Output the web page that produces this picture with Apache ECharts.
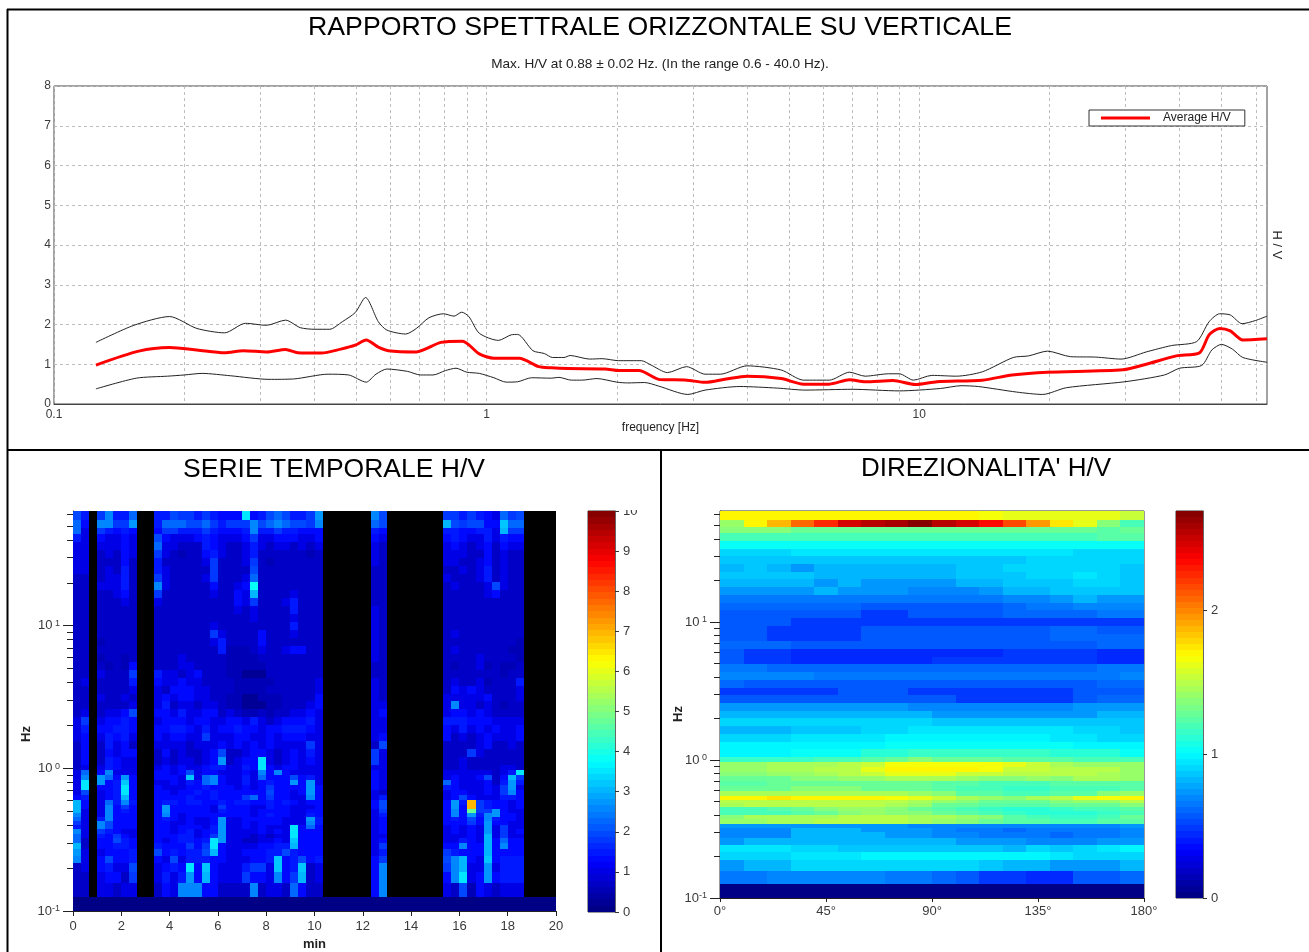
<!DOCTYPE html>
<html><head><meta charset="utf-8">
<style>html,body{margin:0;padding:0;background:#fff}#c{width:1309px;height:952px}</style>
<script src="https://cdn.jsdelivr.net/npm/echarts@6/dist/echarts.min.js"></script>
</head><body><div id="c"></div>
<script>
const titleMain = "RAPPORTO SPETTRALE ORIZZONTALE SU VERTICALE";
const subtitle = "Max. H/V at 0.88 ± 0.02 Hz. (In the range 0.6 - 40.0 Hz).";
const titleSeries = "SERIE TEMPORALE H/V";
const titleDir = "DIREZIONALITA' H/V";
const freqMax = 63.7;
const freqGrid = [0.1,0.2,0.3,0.4,0.5,0.6,0.7,0.8,0.9,1,2,3,4,5,6,7,8,9,10,20,30,40,50,60];
const freqDecades = [0.1,1,10];

const upperFreq = [0.125,0.153,0.185,0.214,0.248,0.277,0.31,0.343,0.371,0.40,0.434,0.464,0.497,0.525,0.562,0.588,0.65,0.688,0.736,0.795,0.841,0.876,0.91,0.962,1.065,1.14,1.18,1.28,1.36,1.42,1.51,1.56,1.73,1.85,2.02,2.28,2.4,2.62,2.9,3.2,3.47,4.0,4.8,5.4,6.2,6.9,7.5,8.5,9,9.7,10.7,12.2,14,16.5,17.9,19.8,22.4,25.6,29.3,33.5,38.3,43.8,46.8,49.5,52.4,55.8,59.9,63.7];
const upperHV = [1.55,1.98,2.2,1.9,1.79,2.03,1.98,2.11,1.92,1.88,1.88,2.07,2.3,2.68,2.07,1.86,1.76,1.9,2.17,2.27,2.21,2.31,2.2,1.78,1.6,1.74,1.75,1.34,1.27,1.17,1.17,1.22,1.13,1.14,1.09,1.09,0.98,0.79,0.94,0.75,0.75,0.96,0.855,0.6,0.6,0.8,0.7,0.76,0.76,0.6,0.72,0.7,0.81,1.17,1.21,1.33,1.19,1.18,1.13,1.31,1.47,1.57,2.07,2.27,2.24,2.02,2.1,2.21];
const meanFreq = [0.125,0.157,0.185,0.214,0.248,0.274,0.31,0.343,0.366,0.415,0.46,0.497,0.527,0.562,0.593,0.688,0.784,0.88,0.962,1.04,1.19,1.32,1.41,1.54,1.88,2.02,2.25,2.5,2.62,2.9,3.2,3.58,4,4.8,5.4,6.2,6.9,7.5,8.7,9.8,11,14,16.4,19.8,29.6,33.5,39.3,44.5,46.8,49.5,52.4,56,63.7];
const meanHV = [0.98,1.33,1.42,1.36,1.29,1.34,1.31,1.37,1.29,1.28,1.38,1.48,1.61,1.43,1.34,1.31,1.55,1.58,1.26,1.15,1.15,0.94,0.91,0.89,0.88,0.84,0.84,0.62,0.61,0.6,0.545,0.63,0.7,0.64,0.5,0.5,0.61,0.56,0.59,0.49,0.56,0.6,0.73,0.8,0.86,1.0,1.21,1.29,1.74,1.9,1.84,1.61,1.64];
const lowerFreq = [0.125,0.155,0.183,0.2,0.22,0.256,0.314,0.358,0.43,0.48,0.527,0.555,0.588,0.657,0.703,0.752,0.803,0.85,0.9,0.962,1.04,1.11,1.18,1.27,1.41,1.47,1.57,1.66,1.8,2.0,2.12,2.32,2.5,2.92,3.2,3.85,4.7,5.45,7,9,11.2,12.5,13.7,16.8,19.3,21.9,29.9,36.9,40,45,47.5,50,53,56,63.7];
const lowerHV = [0.38,0.65,0.7,0.73,0.77,0.71,0.62,0.63,0.75,0.73,0.55,0.75,0.88,0.82,0.73,0.73,0.84,0.9,0.8,0.77,0.66,0.55,0.56,0.66,0.65,0.67,0.6,0.6,0.64,0.55,0.53,0.54,0.45,0.24,0.35,0.44,0.40,0.35,0.37,0.33,0.39,0.46,0.44,0.3,0.24,0.41,0.56,0.73,0.9,0.97,1.36,1.5,1.38,1.17,1.05];

// log10(frequency) limits of the spectrogram rows, bottom to top
const rowLogEdges = [-1,-.902,-.804,-.727,-.664,-.615,-.566,-.524,-.49,-.462,-.427,-.399,-.371,-.343,-.315,-.287,-.259,-.224,-.189,-.154,-.119,-.084,-.049,-.014,.021,.077,.133,.189,.245,.301,.357,.413,.469,.524,.58,.636,.692,.748,.804,.86,.916,.972,1.028,1.084,1.14,1.196,1.252,1.308,1.364,1.42,1.476,1.531,1.587,1.643,1.685,1.741,1.804];

// time columns (20 s each) that hold data; the others stay black
const liveCols = [0,1,3,4,5,6,7,10,11,12,13,14,15,16,17,18,19,20,21,22,23,24,25,26,27,28,29,30,37,38,46,47,48,49,50,51,52,53,54,55];
const timeColCount = 60;
const floorValue = 0;
// H/V in steps of 0.25 (base-36 digits), top row first, one digit per live column
const tsRows = [
"86 7a669 66877676555e56898667b a8 7767654978",
"95 aa77b 699988976777a89a9887a 98 c878855d99",
"94 76565 577666765556a66766555 65 6655664c77",
"64 54454 854445654445744555445 54 5654464655",
"44 44454 944333654334643443434 43 4543453544",
"44 34354 743233564334633333323 43 4443353433",
"44 33353 633333473334732333333 43 4433453433",
"44 34363 643333373333833333333 33 3343463433",
"33 34463 743333473334933333333 33 4333463433",
"33 44463 a43333353345f33333333 33 3433348433",
"33 33453 733333343354c33334333 33 3333345333",
"33 33343 433333333354733346333 33 3333333333",
"33 33333 333333333343433336333 43 3333333333",
"33 33333 333333333333433334333 43 3333333333",
"33 33333 333333343333333336333 43 3333333333",
"33 33333 333333374333353334333 43 3433333333",
"33 23333 333333346333353333333 43 3333333332",
"33 33333 333333336222343345533 43 3433333322",
"33 23323 333433333222233333333 43 3333433332",
"33 32325 333443333222223333333 33 3233423223",
"33 43337 644345333221113333333 33 3333333233",
"34 33336 544544333322222333334 43 3433423336",
"33 33334 435554433322223333334 43 3545433334",
"33 43343 454554433221122233335 43 4444453334",
"33 33334 463443443221112233345 44 4a44343233",
"34 34458 554644553432232334454 45 4554543333",
"47 45565 455545544554643455564 44 6665554444",
"46 55665 556654645565545566654 44 5464545445",
"45 46564 545544744455445455544 45 5343454445",
"35 36453 444434445454545444474 38 3333453343",
"35 35455 353433458334554345464 74 3337433333",
"35 36544 34344345b3455e4345454 74 3343333333",
"34 46544 4545445664465e5455444 44 3343333443",
"49 5a444 5545845544454a5a54444 54 444444346e",
"4a b95b5 5554d49a5446495558564 54 45445835c7",
"4e b56d5 4454659a544645655b5b4 54 95444536b6",
"4e 556e5 5444556555454575555b5 54 65444547b4",
"48 456e5 5545565655555585545b5 43 45544547a5",
"56 456c5 5555655655579575544a5 46 4585444665",
"c5 496a6 566566556566556565455 58 5b6s765545",
"c5 4a575 5b5555547555446554445 58 5b5s765545",
"c4 4a565 5b5555546555455554455 47 5a5j77b544",
"a4 4a555 5a5455555555456554465 46 5a5b6ab554",
"94 6a555 56545445b4455555444b6 45 56585a6554",
"74 a8555 55445445b4454555444a6 45 55575b5544",
"64 a8555 55455546b44545444e595 45 45454b4744",
"a4 76544 55456456b44445454e555 45 45454b4745",
"94 65754 55566457b44434344e555 44 44454c4744",
"93 55865 5456656eb44334454d555 45 44654c5955",
"c3 55665 6555757e544445566c555 47 55a55c5a55",
"b4 45556 8565668c5445556686555 46 76555c5555",
"a4 58556 548466655444556d56856 57 8ac54d5666",
"34 56448 4565e5d54446774d56d34 5a 7ac44b4666",
"33 45537 4646b5c54447554a57c34 5a 5ae45b5666",
"33 44344 354aaa553333a34439533 5a 4382543444"
];
// H/V in steps of 0.05 (0-9 a-z A-Z), top row first, one digit per 10 degrees
const dirRows = [
"yyyyyyyyyyyxwwwwwv","syBGJNPQRPNLHDzwro","rrrqqqqqqqqqqqqqpq","oooooooooooooooopp",
"llllllllllllllllll","iiijjjjjjjjjjjjiii","hhhhhhhhhhhhhiiiii","ghgfgggggghhiiiiih",
"hhhhgggggghhhiijih","ggggfgffffgghhhiih","ffffgfffeeefgghhhh","ddddddddddddeefgff",
"ccccccbbbbbbcddeee","bbbbbbaabbbbccccdd","bbbaaaaaaaaaaaaaaa","bbaaaabbbbbbbbccbb",
"bbaaaabbbbbbbbcccc","cccbbbbbbbbbbbbbcc","baa999999999aaaa99","baa999999aaaaaaa99",
"ddccccccccccccccdd","eeeeddddddddddddde","cbbbbbbbbbbbbbbbcc","aaaaabbbaaaaaaabbb",
"bbbbbbbbbbaaaaabcc","ffffffffeeeeeeefff","gggggggggfffffffgg","iiiiiiiiihhhhhhhhh",
"ggghhhiijjjjjjjiih","iiijjjjkkkkkkkjjii","kkkkkkkllllllllkkk","kkklllmmnnnnnnmmml",
"nnnnoopqrqqqpppooo","sstttuvxxxxxwvtsss","ssttuuwyyyyxvvuuus","rrsstuvwwwvvuuuuts",
"qqqrrsstttsrrsrtts","ppqqqqqqqppooopppp","qqqrrrqqqpoonnooop","ttttttttsrppoopprs",
"yyzyyyyxwvtsrtuwxy","uuuuuuuutsrqqqrssu","tuuuuuutsqqpppqqqr","oopqrssrqponmmnoop",
"ooopqrsrrqponmmmno","rttttuuuttsrponnoq","ssttuuuutsrqppoopp","ffffffffeeeeeeeeef",
"eeegggfffeddcdddde","eeeggggffeedddcdde","fgggggggggfffeeeff","jjjiihhhhhhhgihijk",
"iiijjjkkkkkkkkjiii","fggiiiiiiiihggfffg","ddeeeeeddcbaa99bbc","000000000000000000"
];
const tsMax = 10, dirMax = 2.69;
const timeTicks = {min:0,max:20,interval:2};
const dirTicks = {min:0,max:180,interval:45};
const hvTicks = {min:0,max:8,interval:1};
const tsBarTicks = [0,1,2,3,4,5,6,7,8,9,10];
const dirBarTicks = [0,1,2];
const logTicks = [0.1,0.2,0.3,0.4,0.5,0.6,0.7,0.8,0.9,1,2,3,4,5,6,7,8,9,10,20,30,40,50,60];

const LEVELS = 64;
function jet(f){
  f = Math.max(0,Math.min(0.9999,f));
  f = (Math.floor(f*LEVELS)+0.5)/LEVELS;
  const c = x=>Math.round(255*Math.max(0,Math.min(1,1.5-Math.abs(4*f-x))));
  return `rgb(${c(3)},${c(2)},${c(1)})`;
}
const edge = k => Math.pow(10,rowLogEdges[k]);
const nRows = rowLogEdges.length-1;
const tsCells = [];
tsRows.forEach((row,i)=>{
  const digits = row.replace(/ /g,'');
  const k = nRows-1-i;
  liveCols.forEach((col,j)=>{
    tsCells.push([col/3,(col+1)/3,edge(k),edge(k+1),parseInt(digits[j],36)*0.25]);
  });
});
for(let col=0;col<timeColCount;col++) tsCells.push([col/3,(col+1)/3,edge(0),edge(1),floorValue]);
const ALPHA='0123456789abcdefghijklmnopqrstuvwxyzABCDEFGHIJKLMNOPQRSTUVWXYZ';
const dirCells = [];
dirRows.forEach((row,i)=>{
  const k = nRows-1-i;
  row.split('').forEach((ch,j)=>{
    dirCells.push([j*10,(j+1)*10,edge(k),edge(k+1),ALPHA.indexOf(ch)*0.05]);
  });
});
const barCells = max => Array.from({length:LEVELS},(_,i)=>[0,1,i*max/LEVELS,(i+1)*max/LEVELS,(i+0.5)*max/LEVELS]);
const cellRender = max => (params,api)=>{
  const a = api.coord([api.value(0),api.value(2)]);
  const b = api.coord([api.value(1),api.value(3)]);
  const x0=Math.round(a[0]),x1=Math.round(b[0]),y0=Math.round(b[1]),y1=Math.round(a[1]);
  return {type:'rect',shape:{x:x0,y:y0,width:x1-x0,height:y1-y0},style:{fill:jet(api.value(4)/max)}};
};
const cellSeries=(name,data,max,ax)=>({name,type:'custom',xAxisIndex:ax.x,yAxisIndex:ax.y,data,encode:{x:[0,1],y:[2,3]},renderItem:cellRender(max),silent:true,clip:true});

const FONT='"Liberation Sans",Arial,sans-serif', LAB='#3a3a3a';
const labelStyle={color:LAB,fontFamily:FONT,fontSize:12};
const powerLabel = v => {
  const e=Math.round(Math.log10(v));
  return '{b|10}{s|'+(e<0?e:' '+e)+'}';
};
const logAxisPair = (gi)=>[
 {type:'log',logBase:10,gridIndex:gi,min:0.1,max:freqMax,
  axisLine:{show:true,onZero:false,lineStyle:{color:'#222'}},
  axisTick:{show:true,length:6,inside:false,customValues:logTicks,lineStyle:{color:'#222'}},
  axisLabel:{show:false},splitLine:{show:false},minorTick:{show:false}},
 {type:'log',logBase:10,gridIndex:gi,min:0.1,max:freqMax,position:'left',
  axisLine:{show:false},
  axisTick:{show:true,length:10,customValues:freqDecades,lineStyle:{color:'#222'}},
  axisLabel:{show:true,margin:13,customValues:freqDecades,formatter:powerLabel,
    rich:{b:{fontFamily:FONT,fontSize:13,color:LAB},s:{fontFamily:FONT,fontSize:9,color:LAB,verticalAlign:'top',lineHeight:11,padding:[0,0,6,0]}}},
  splitLine:{show:false}}
];
const barX = gi=>({type:'value',gridIndex:gi,min:0,max:1,show:false});
const barY = (gi,max,vals)=>({type:'value',gridIndex:gi,min:0,max,position:'right',
  axisLine:{show:true,onZero:false,lineStyle:{color:'#666'}},
  axisTick:{show:true,length:4,customValues:vals,lineStyle:{color:'#333'}},
  axisLabel:{show:true,margin:8,customValues:vals,color:LAB,fontFamily:FONT,fontSize:13},
  splitLine:{show:false}});

const option={
 animation:false,backgroundColor:'#fff',
 title:[
  {text:titleMain,left:660,top:14,textAlign:'center',padding:0,textStyle:{fontFamily:FONT,fontSize:26.7,fontWeight:'normal',color:'#000'}},
  {text:subtitle,left:660,top:57,textAlign:'center',padding:0,textStyle:{fontFamily:FONT,fontSize:13.6,fontWeight:'normal',color:'#222'}},
  {text:titleSeries,left:334,top:456,textAlign:'center',padding:0,textStyle:{fontFamily:FONT,fontSize:26.5,fontWeight:'normal',color:'#000'}},
  {text:titleDir,left:986,top:456,textAlign:'center',padding:0,textStyle:{fontFamily:FONT,fontSize:26,fontWeight:'normal',color:'#000'}}
 ],
 legend:{data:['Average H/V'],left:1089,top:110,orient:'horizontal',selectedMode:false,backgroundColor:'#fff',
  borderColor:'#333',borderWidth:1,borderRadius:0,padding:[2,14,2,12],itemWidth:49,itemHeight:3,itemGap:0,
  icon:'rect',textStyle:{fontFamily:FONT,fontSize:12,color:'#222',padding:[0,0,0,8]}},
 grid:[
  {left:54,top:86,width:1213,height:318,show:true,borderColor:'#444',borderWidth:1,backgroundColor:'#fff',containLabel:false},
  {left:73,top:511,width:483,height:401,show:true,backgroundColor:'#000',borderWidth:0},
  {left:588,top:511,width:27,height:401,show:true,borderColor:'#333',borderWidth:1},
  {left:720,top:511,width:424,height:387,show:true,borderColor:'#333',borderWidth:1,backgroundColor:'#fff'},
  {left:1176,top:511,width:27,height:387,show:true,borderColor:'#333',borderWidth:1}
 ],
 xAxis:[
  {type:'log',logBase:10,gridIndex:0,min:0.1,max:freqMax,name:'frequency [Hz]',nameLocation:'middle',nameGap:15,
   nameTextStyle:{fontFamily:FONT,fontSize:12,color:'#222'},
   axisLine:{show:true,onZero:false,lineStyle:{color:'#444'}},
   axisTick:{show:false,customValues:freqGrid},
   axisLabel:{show:true,customValues:freqDecades,margin:5,color:LAB,fontFamily:FONT,fontSize:12,formatter:v=>String(+v.toFixed(1))},
   splitLine:{show:true,lineStyle:{type:[3,3],color:'#bdbdbd',width:1}}},
  {type:'value',gridIndex:1,...timeTicks,name:'min',nameLocation:'middle',nameGap:27,
   nameTextStyle:{fontFamily:FONT,fontSize:13,fontWeight:'bold',color:'#222'},
   axisLine:{show:true,onZero:false,lineStyle:{color:'#222'}},axisTick:{show:true,length:5,lineStyle:{color:'#222'}},
   axisLabel:{show:true,margin:9,...labelStyle,fontSize:13},splitLine:{show:false}},
  barX(2),
  {type:'value',gridIndex:3,...dirTicks,
   axisLine:{show:true,onZero:false,lineStyle:{color:'#222'}},axisTick:{show:true,length:4,lineStyle:{color:'#222'}},
   axisLabel:{show:true,margin:7,...labelStyle,fontSize:13,formatter:v=>v+'°'},splitLine:{show:false}},
  barX(4)
 ],
 yAxis:[
  {type:'value',gridIndex:0,...hvTicks,axisLine:{show:false},axisTick:{show:false},
   axisLabel:{show:true,margin:3,...labelStyle},
   splitLine:{show:true,lineStyle:{type:[3,3],color:'#bdbdbd',width:1}}},
  ...logAxisPair(1),
  barY(2,tsMax,tsBarTicks),
  ...logAxisPair(3),
  barY(4,dirMax,dirBarTicks)
 ],
 series:[
  {name:'Upper',type:'line',xAxisIndex:0,yAxisIndex:0,smooth:0.25,showSymbol:false,symbol:'none',lineStyle:{color:'#222',width:1},data:upperFreq.map((f,i)=>[f,upperHV[i]]),silent:true},
  {name:'Lower',type:'line',xAxisIndex:0,yAxisIndex:0,smooth:0.25,showSymbol:false,symbol:'none',lineStyle:{color:'#222',width:1},data:lowerFreq.map((f,i)=>[f,lowerHV[i]]),silent:true},
  {name:'Average H/V',type:'line',xAxisIndex:0,yAxisIndex:0,smooth:0.25,showSymbol:false,symbol:'none',itemStyle:{color:'#ff0000'},lineStyle:{color:'#ff0000',width:3},data:meanFreq.map((f,i)=>[f,meanHV[i]]),silent:true,z:5},
  cellSeries('Serie temporale',tsCells,tsMax,{x:1,y:1}),
  cellSeries('Scala serie',barCells(tsMax),tsMax,{x:2,y:3}),
  cellSeries('Direzionalita',dirCells,dirMax,{x:3,y:4}),
  cellSeries('Scala direzionalita',barCells(dirMax),dirMax,{x:4,y:6})
 ],
 graphic:{elements:[
  {type:'rect',z:100,silent:true,shape:{x:618,y:496,width:30,height:14},style:{fill:'#fff'}},
  {type:'line',z:101,silent:true,shape:{x1:7.5,y1:9,x2:7.5,y2:952},style:{stroke:'#000',lineWidth:2}},
  {type:'line',z:101,silent:true,shape:{x1:7,y1:9.5,x2:1309,y2:9.5},style:{stroke:'#000',lineWidth:2}},
  {type:'line',z:101,silent:true,shape:{x1:7,y1:450,x2:1309,y2:450},style:{stroke:'#000',lineWidth:2}},
  {type:'line',z:101,silent:true,shape:{x1:661,y1:450,x2:661,y2:952},style:{stroke:'#000',lineWidth:2}},
  {type:'text',z:101,silent:true,x:1277,y:245,rotation:-Math.PI/2,style:{text:'H / V',align:'center',verticalAlign:'middle',fontFamily:FONT,fontSize:13,fill:'#222'}},
  {type:'text',z:101,silent:true,x:26,y:734,rotation:Math.PI/2,style:{text:'Hz',align:'center',verticalAlign:'middle',fontFamily:FONT,fontSize:13,fontWeight:'bold',fill:'#222'}},
  {type:'text',z:101,silent:true,x:678,y:714,rotation:Math.PI/2,style:{text:'Hz',align:'center',verticalAlign:'middle',fontFamily:FONT,fontSize:13,fontWeight:'bold',fill:'#222'}}
 ]}
};
const chart=echarts.init(document.getElementById('c'),null,{renderer:'canvas',width:1309,height:952});
chart.setOption(option);
</script></body></html>
